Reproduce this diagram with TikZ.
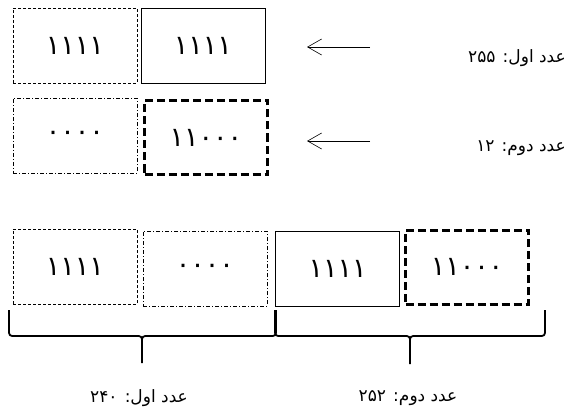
\documentclass[tikz,border=0pt]{standalone}
\usepackage{fontspec}
\usetikzlibrary{arrows.meta}
\newfontfamily\arabicfont[Script=Arabic]{DejaVu Sans}
\TeXXeTstate=1
\begin{document}
\begin{tikzpicture}[x=1pt,y=-1pt,
  box/.style={draw, minimum width=124pt, minimum height=75pt, inner sep=0pt, font=\arabicfont\fontsize{27}{30}\selectfont},
  dashbox/.style={box, line width=0.6pt, dash pattern=on 3pt off 2pt},
  dotbox/.style={box, line width=0.6pt, dash pattern=on 4pt off 2pt on 1pt off 2pt},
  solidbox/.style={box, line width=0.8pt},
  thickbox/.style={box, line width=3pt, dash pattern=on 8pt off 4pt, minimum width=123pt, minimum height=74pt},
  lbl/.style={font=\arabicfont\fontsize{17}{20}\selectfont, inner sep=0pt},
  arr/.style={-{Straight Barb[length=14pt,width=16pt]}, line width=0.6pt},
  brace/.style={line width=1.8pt, line join=round}
]
\useasboundingbox (0,0) rectangle (569,414);
% top rows
\node[dashbox] (a) at (75,45.5) {۱۱۱۱};
\node[solidbox] (b) at (203,45.5) {۱۱۱۱};
\node[dotbox] (c) at (75,135.5) {۰۰۰۰};
\node[thickbox] (d) at (206,137.5) {۱۱۰۰۰};
\node[lbl, anchor=east] (l1) at (566,58) {\beginR عدد اول: \beginL۲۵۵\endL\endR};
\node[lbl, anchor=east] (l2) at (566,148) {\beginR عدد دوم: \beginL۱۲\endL\endR};
\coordinate (s1) at (370,47);
\coordinate (e1) at (307,47);
\coordinate (s2) at (370,141);
\coordinate (e2) at (307,141);
\draw[arr] (s1) -- (e1);
\draw[arr] (s2) -- (e2);
% bottom row
\node[dashbox] (e) at (75,266.5) {۱۱۱۱};
\node[dotbox] (f) at (205,268.5) {۰۰۰۰};
\node[solidbox] (g) at (337.5,268.5) {۱۱۱۱};
\node[thickbox] (h) at (467,267) {۱۱۰۰۰};
% braces
\draw[brace] (9,310) -- (9,329) .. controls (9,336) .. (16,336) -- (135,336) .. controls (142,336) .. (142,343) -- (142,363);
\draw[brace] (142,343) .. controls (142,336) .. (149,336) -- (269,336) .. controls (276,336) .. (276,329) -- (276,310);
\draw[brace] (275,310) -- (275,329) .. controls (275,336) .. (282,336) -- (403,336) .. controls (410,336) .. (410,343) -- (410,364);
\draw[brace] (410,343) .. controls (410,336) .. (417,336) -- (538,336) .. controls (545,336) .. (545,329) -- (545,310);
\node[lbl] (l3) at (139,398) {\beginR عدد اول: \beginL۲۴۰\endL\endR};
\node[lbl] (l4) at (408,398) {\beginR عدد دوم: \beginL۲۵۲\endL\endR};
\end{tikzpicture}
\end{document}
